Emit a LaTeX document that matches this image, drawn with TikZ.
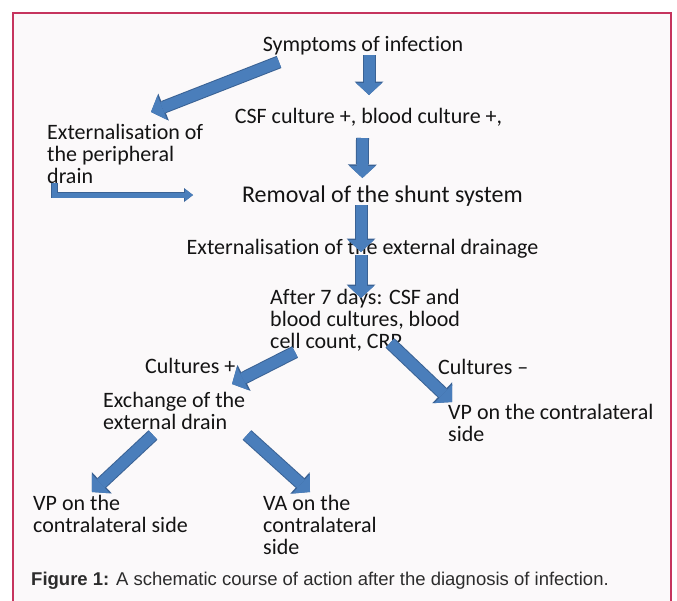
\documentclass[tikz,border=0pt]{standalone}
\usepackage{fontspec}
\setmainfont{Carlito}[Ligatures=NoCommon]
\newfontfamily\captionfont{Liberation Sans}
\usetikzlibrary{arrows.meta,calc}
\definecolor{frameRed}{HTML}{C6345E}
\definecolor{paneBg}{HTML}{FBF9FA}
\definecolor{arrowBlue}{HTML}{4A7EBB}
\definecolor{arrowEdge}{HTML}{3A6294}
\definecolor{inkGrey}{HTML}{141414}

\begin{document}
\begin{tikzpicture}[x=1pt,y=-1pt,
	txt/.style={inner sep=0pt,text=inkGrey,font=\fontsize{22}{22}\selectfont},
	ltxt/.style={txt,anchor=base west,align=left},
	ctxt/.style={txt,anchor=base},
	blockarrow/.style={line width=11pt,draw=arrowBlue,-{Triangle[width=26pt,length=12pt,line width=0pt]},
		preaction={draw=arrowEdge,line width=13pt,-{Triangle[width=29pt,length=13.5pt,line width=0pt]}}},
	elbowarrow/.style={line width=5pt,draw=arrowBlue,-{Triangle[width=12pt,length=8pt,line width=0pt]},
		preaction={draw=arrowEdge,line width=6.5pt,-{Triangle[width=14pt,length=9pt,line width=0pt]}}}]
	\useasboundingbox (0,0) rectangle (677,600);
	\clip (0,0) rectangle (677,600);
	\fill[white] (0,0) rectangle (677,600);
	\draw[frameRed,line width=2pt,fill=paneBg] (12.5,12.5) rectangle (671,640);

	% multi-line texts sit on the baseline of their last line
	\node[ctxt] (symp) at (363,51) {Symptoms of infection};
	\node[ctxt] (csf) at (368.5,123) {CSF culture +, blood culture +,};
	\node[ltxt] (periph) at (47,183) {Externalisation of\\the peripheral\\drain};
	\node[ctxt,font=\fontsize{24}{24}\selectfont] (removal) at (382.4,202.7) {Removal of the shunt system};
	\node[ctxt] (extdr) at (362.5,254) {Externalisation of the external drainage};
	\node[ltxt] (after) at (270,348.7) {After 7 days: CSF and\\blood cultures, blood\\cell count, CRP};
	\node[ltxt] (cplus) at (145,373.7) {Cultures +};
	\node[ltxt] (cminus) at (438,374) {Cultures --};
	\node[ltxt] (exch) at (103,429) {Exchange of the\\external drain};
	\node[ltxt] (vpright) at (448,441) {VP on the contralateral\\side};
	\node[ltxt] (vpleft) at (33,532) {VP on the\\contralateral side};
	\node[ltxt] (va) at (263,554) {VA on the\\contralateral\\side};

	\draw[blockarrow] ($(symp.base)+(6,4)$) -- ($(csf.base)+(0.5,-28)$);
	\draw[blockarrow] ($(symp.base)+(-84,11)$) -- ($(periph.base west)+(104,-71)$);
	\draw[blockarrow] ($(csf.base)+(-6,15)$) -- ($(removal.base)+(-20,-24.7)$);
	\draw[elbowarrow] ($(periph.base west)+(7.5,-0.5)$) |- ($(removal.base)+(-189.4,-7.7)$);
	\draw[blockarrow] ($(removal.base)+(-21.4,2.3)$) -- ($(extdr.base)+(-1.5,-2)$);
	\draw[blockarrow] ($(extdr.base)+(-1.5,1)$) -- ($(after.base west)+(91,-50.7)$);
	\draw[blockarrow] ($(after.base west)+(25,3.3)$) -- ($(exch.base west)+(129,-45)$);
	\draw[blockarrow] ($(after.base west)+(120,-5.7)$) -- ($(vpright.base west)+(4,-39)$);
	\draw[blockarrow] ($(exch.base west)+(50,6)$) -- ($(vpleft.base west)+(59,-40)$);
	\draw[blockarrow] ($(exch.base west)+(144,6)$) -- ($(va.base west)+(47,-62)$);

	\node[anchor=base west,inner sep=0pt,text=inkGrey!90,font=\captionfont\fontsize{18.5}{20}\selectfont] (caption) at (31,585)
		{\textbf{Figure 1:} A schematic course of action after the diagnosis of infection.};
\end{tikzpicture}
\end{document}
